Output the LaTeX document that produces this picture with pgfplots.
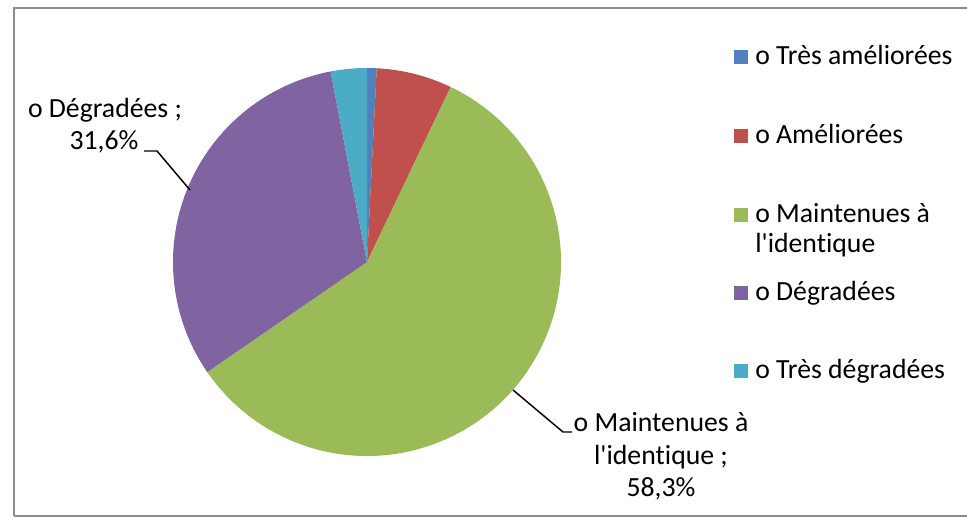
\documentclass[border=0pt]{standalone}
\usepackage{pgfplots}
\pgfplotsset{compat=1.18}
\usepackage{pgfplotstable}
\usepackage{fontspec}
\setmainfont{Carlito}[Ligatures={NoCommon,TeXOff}]
\definecolor{c1}{HTML}{4F81BD}
\definecolor{c2}{HTML}{C0504D}
\definecolor{c3}{HTML}{9BBB59}
\definecolor{c4}{HTML}{8064A2}
\definecolor{c5}{HTML}{4BACC6}
\definecolor{frame}{HTML}{8C8C8C}
\pgfplotstableread{
idx value
0 0.8
1 6.3
2 58.3
3 31.6
4 3.0
}\piedata
\begin{document}
\begin{tikzpicture}[x=0.75pt,y=0.75pt,font=\fontsize{20.8pt}{25pt}\selectfont]
\useasboundingbox (0,0) rectangle (967,517);
\begin{axis}[at={(0,0)}, anchor=south west, x=0.75pt, y=0.75pt,
  xmin=0, xmax=967, ymin=0, ymax=517, hide axis, clip=false]
\pgfplotsextra{
  \gdef\startang{90}
  \foreach \i/\col in {0/c1,1/c2,2/c3,3/c4,4/c5} {
    \pgfplotstablegetelem{\i}{value}\of\piedata
    \pgfmathsetmacro{\endang}{\startang-3.6*\pgfplotsretval}
    \fill[\col] (axis cs:367,255) -- ++(\startang:145.5pt) arc[start angle=\startang, end angle=\endang, radius=145.5pt] -- cycle;
    \xdef\startang{\endang}
  }
  % leader lines
  \draw[line width=1.1pt] (axis cs:144,366) -- (axis cs:157,366) -- (axis cs:190,327);
  \draw[line width=1.1pt] (axis cs:513,127) -- (axis cs:563,85) -- (axis cs:572,85);
  % data labels
  \node[anchor=base] at (axis cs:105,399) {o Dégradées ;};
  \node[anchor=base] at (axis cs:104,367) {31,6\%};
  \node[anchor=base] at (axis cs:661,85) {o Maintenues à};
  \node[anchor=base] at (axis cs:661,52) {l'identique ;};
  \node[anchor=base] at (axis cs:661,20) {58,3\%};
  % legend
  \foreach \yc/\col/\txt in {460/c1/{o Très améliorées},381/c2/{o Améliorées},302/c3/{o Maintenues à},224/c4/{o Dégradées},146/c5/{o Très dégradées}} {
    \fill[\col] (axis cs:734,\yc-7) rectangle (axis cs:748,\yc+7);
    \node[anchor=base west, inner sep=0pt] at (axis cs:755,\yc-8) {\txt};
  }
  \node[anchor=base west, inner sep=0pt] at (axis cs:755,264) {l'identique};
}
\end{axis}
\draw[frame, line width=1.2pt] (14,1) -- (14,509) -- (975,509);
\draw[frame, line width=1.2pt] (14,1) -- (975,1);
\end{tikzpicture}
\end{document}
